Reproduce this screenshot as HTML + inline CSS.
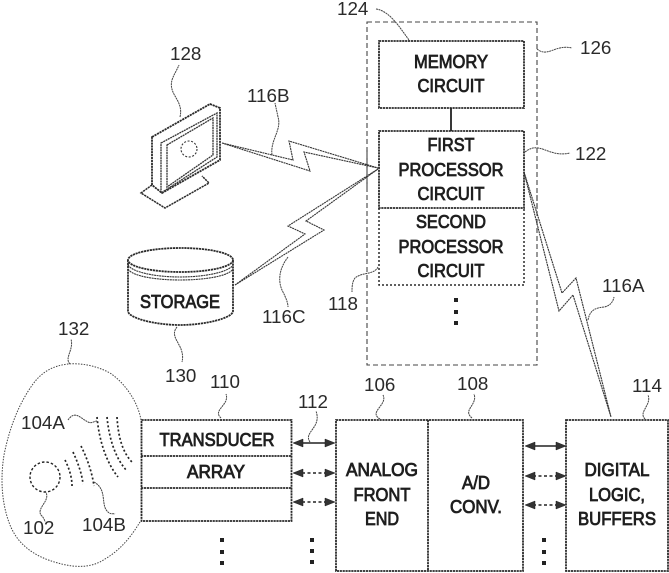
<!DOCTYPE html>
<html><head><meta charset="utf-8"><style>
html,body{margin:0;padding:0;background:#fff;width:669px;height:573px;overflow:hidden}
svg{display:block;filter:blur(.35px)}
text{font-family:"Liberation Sans",sans-serif;fill:#222}
.n{font-size:18.8px;fill:#2a2a2a}
.b{font-size:18.5px;text-anchor:middle;fill:#1f1f1f;stroke:#1f1f1f;stroke-width:.85}
.box{fill:none;stroke:#2a2a2a;stroke-width:1.8;stroke-dasharray:2.2 .7}
.thin{fill:none;stroke:#333;stroke-width:1.1;stroke-dasharray:2 .6}
.lead{fill:none;stroke:#444;stroke-width:1;stroke-dasharray:2 .6}
.dot{fill:none;stroke:#222;stroke-width:1.7;stroke-dasharray:2 2.2}
.dash{fill:none;stroke:#444;stroke-width:1.1;stroke-dasharray:5 3}
.ar{fill:#333;stroke:#222;stroke-width:.5}
.sd{fill:none;stroke:#222;stroke-width:1.5;stroke-dasharray:3 2.5}
</style></head><body>
<svg width="669" height="573" viewBox="0 0 669 573" xmlns="http://www.w3.org/2000/svg">
<rect x="367" y="22" width="170" height="343" class="dash"/>
<rect x="379" y="41" width="145" height="67" class="box"/>
<line x1="451" y1="108" x2="451" y2="131" stroke="#222" stroke-width="1.8"/>
<path d="M379 208V285H524V208" class="box" style="stroke-width:1.5;stroke-dasharray:2 2"/>
<rect x="379" y="131" width="145" height="77" class="box"/>
<text x="451" y="68" class="b" textLength="74" lengthAdjust="spacingAndGlyphs">MEMORY</text>
<text x="451" y="92" class="b" textLength="67" lengthAdjust="spacingAndGlyphs">CIRCUIT</text>
<text x="451" y="151" class="b" textLength="47" lengthAdjust="spacingAndGlyphs">FIRST</text>
<text x="451" y="176" class="b" textLength="105" lengthAdjust="spacingAndGlyphs">PROCESSOR</text>
<text x="451" y="200" class="b" textLength="67" lengthAdjust="spacingAndGlyphs">CIRCUIT</text>
<text x="451" y="228" class="b" textLength="70" lengthAdjust="spacingAndGlyphs">SECOND</text>
<text x="451" y="253" class="b" textLength="105" lengthAdjust="spacingAndGlyphs">PROCESSOR</text>
<text x="451" y="277" class="b" textLength="67" lengthAdjust="spacingAndGlyphs">CIRCUIT</text>
<g fill="#222"><rect x="454" y="298" width="4" height="4"/><rect x="454" y="310" width="4" height="4"/><rect x="454" y="321" width="4" height="4"/>
<rect x="220" y="538" width="4" height="4"/><rect x="220" y="550" width="4" height="4"/><rect x="220" y="561" width="4" height="4"/>
<rect x="310" y="538" width="4" height="4"/><rect x="310" y="549" width="4" height="4"/><rect x="310" y="560" width="4" height="4"/>
<rect x="542" y="538" width="4" height="4"/><rect x="542" y="550" width="4" height="4"/><rect x="542" y="561" width="4" height="4"/></g>

<!-- monitor -->
<path d="M152 185L141 193L165 208L209 183L202 176" class="box" style="fill:#fff;stroke-width:1.5"/>
<path d="M152 137L210 104L220 108V160L162 193L152 185Z" class="box" style="fill:#fff"/>
<path d="M161 143L217 113V157L161 193Z" class="thin" style="stroke-width:1.3"/>
<path d="M167 145L213 118V155L167 187Z" class="thin" style="stroke-width:1.3"/>
<circle cx="189" cy="149" r="8" class="thin" style="stroke-dasharray:2 1.6"/>

<!-- storage -->
<path d="M128 260V311C128 318 155 325 180 325C205 325 233 318 233 311V260" class="box" style="fill:#fff"/>
<ellipse cx="180.500" cy="260" rx="52.500" ry="12" class="box" style="fill:#fff"/>
<path d="M128 265C132 272 155 277 180 277C205 277 229 272 233 265" class="thin"/>
<path d="M128 269C132 276 155 280 180 280C205 280 229 276 233 269" class="thin"/>
<text x="180" y="308" class="b" textLength="80" lengthAdjust="spacingAndGlyphs">STORAGE</text>

<!-- lightning -->
<path d="M222 143L293 160L289 141L378 168L304 152L310 171Z" class="thin"/>
<path d="M235 285L305 234L288 226L378 169L306 221L324 230Z" class="thin"/>
<path d="M524 172L562 293L576 278L611 417L573 295L559 311Z" class="thin" style="fill:#fff"/>
<line x1="367" y1="150" x2="367" y2="190" class="dash"/>
<line x1="537" y1="195" x2="537" y2="225" class="dash"/>

<!-- transducer -->
<rect x="141.500" y="420" width="150" height="101" class="box"/>
<line x1="141" y1="456" x2="292" y2="456" class="box"/>
<line x1="141" y1="488" x2="292" y2="488" class="box"/>
<text x="217" y="446" class="b" textLength="115" lengthAdjust="spacingAndGlyphs">TRANSDUCER</text>
<text x="216" y="478" class="b" textLength="58" lengthAdjust="spacingAndGlyphs">ARRAY</text>

<!-- blocks -->
<rect x="336" y="420" width="187" height="151" class="box"/>
<line x1="428" y1="420" x2="428" y2="571" class="box"/>
<rect x="566" y="420" width="102" height="151" class="box"/>
<text x="382" y="476" class="b" textLength="72" lengthAdjust="spacingAndGlyphs">ANALOG</text>
<text x="382" y="501" class="b" textLength="57" lengthAdjust="spacingAndGlyphs">FRONT</text>
<text x="382" y="525" class="b" textLength="34" lengthAdjust="spacingAndGlyphs">END</text>
<text x="476" y="489" class="b" textLength="28" lengthAdjust="spacingAndGlyphs">A/D</text>
<text x="476" y="513" class="b" textLength="52" lengthAdjust="spacingAndGlyphs">CONV.</text>
<text x="617" y="476" class="b" textLength="65" lengthAdjust="spacingAndGlyphs">DIGITAL</text>
<text x="617" y="501" class="b" textLength="56" lengthAdjust="spacingAndGlyphs">LOGIC,</text>
<text x="617" y="525" class="b" textLength="78" lengthAdjust="spacingAndGlyphs">BUFFERS</text>

<!-- arrows -->
<line x1="300" y1="443" x2="330" y2="443" stroke="#222" stroke-width="1.5"/>
<line x1="302" y1="473" x2="328" y2="473" class="sd"/>
<line x1="302" y1="502" x2="328" y2="502" class="sd"/>
<line x1="531" y1="446" x2="560" y2="446" stroke="#222" stroke-width="1.5"/>
<line x1="533" y1="476" x2="558" y2="476" class="sd"/>
<line x1="533" y1="505" x2="558" y2="505" class="sd"/>
<g class="ar">
<path d="M293 443l10-4v8zM335 443l-10-4v8z"/>
<path d="M293 473l10-4v8zM335 473l-10-4v8z"/>
<path d="M293 502l10-4v8zM335 502l-10-4v8z"/>
<path d="M525 446l10-4v8zM566 446l-10-4v8z"/>
<path d="M525 476l10-4v8zM566 476l-10-4v8z"/>
<path d="M525 505l10-4v8zM566 505l-10-4v8z"/>
</g>

<!-- subject -->
<path d="M141 420C138 402 125 383 110 373C95 365 80 363 68 364C52 366 42 372 33 384C20 402 10 425 4 455C0 480 2 505 10 525C18 545 35 557 58 563C75 568 92 568 105 559C122 549 132 535 140 522" fill="none" stroke="#444" stroke-width="1" stroke-dasharray="1.5 1.3"/>
<circle cx="45" cy="477" r="15" class="dot" style="stroke-width:1.4;stroke-dasharray:2.500 2"/>
<path d="M97 417C99 440 106 462 118 477" class="dot"/>
<path d="M107 417C109 438 115 458 127 471" class="dot"/>
<path d="M117 417C118 435 122 452 132 462" class="dot"/>
<path d="M65 460C69 468 72 477 72 486" class="dot"/>
<path d="M73 452C78 463 82 474 83 484" class="dot"/>
<path d="M81 446C87 458 92 472 94 486" class="dot"/>

<!-- leaders -->
<path d="M70 364C64 358 74 350 71 339" class="lead"/>
<path d="M68 420C75 410 80 418 88 422C92 424 94 421 97 421" class="lead"/>
<path d="M45 491C52 500 36 508 41 515C44 518 45 521 45 522" class="lead"/>
<path d="M94 482C108 490 100 505 108 512C111 515 113 513 115 514" class="lead"/>
<path d="M221 418C212 410 230 405 226 394" class="lead"/>
<path d="M310 442C303 432 322 428 316 411" class="lead"/>
<path d="M380 419C368 412 388 405 383 395" class="lead"/>
<path d="M472 418C462 410 478 405 474 394" class="lead"/>
<path d="M645 419C638 412 652 405 648 395" class="lead"/>
<path d="M177 327C168 338 186 345 182 362" class="lead"/>
<path d="M180 117C184 100 168 95 172 80C174 74 177 70 179 65" class="lead"/>
<path d="M272 155C270 140 282 130 278 117C277 112 276 108 275 103" class="lead"/>
<path d="M288 257C278 270 278 283 283 292C286 298 288 303 288 307" class="lead"/>
<path d="M378 267C374 275 362 272 355 278C352 282 352 288 352 292" class="lead"/>
<path d="M376 9C390 11 400 28 409 40" class="lead"/>
<path d="M537 49C548 58 555 44 572 48" class="lead"/>
<path d="M525 152C540 140 548 158 570 153" class="lead"/>
<path d="M588 320C590 310 595 308 604 307C610 306 613 302 614 297" class="lead"/>

<text x="337" y="15" class="n">124</text>
<text x="580" y="54" class="n">126</text>
<text x="575" y="160" class="n">122</text>
<text x="170" y="60" class="n">128</text>
<text x="247" y="102" class="n">116B</text>
<text x="262" y="323" class="n">116C</text>
<text x="328" y="310" class="n">118</text>
<text x="602" y="292" class="n">116A</text>
<text x="165" y="382" class="n">130</text>
<text x="58" y="335" class="n">132</text>
<text x="210" y="388" class="n">110</text>
<text x="298" y="408" class="n">112</text>
<text x="364" y="391" class="n">106</text>
<text x="457" y="390" class="n">108</text>
<text x="632" y="392" class="n">114</text>
<text x="21" y="429" class="n">104A</text>
<text x="82" y="531" class="n">104B</text>
<text x="23" y="534" class="n">102</text>
</svg>
</body></html>
